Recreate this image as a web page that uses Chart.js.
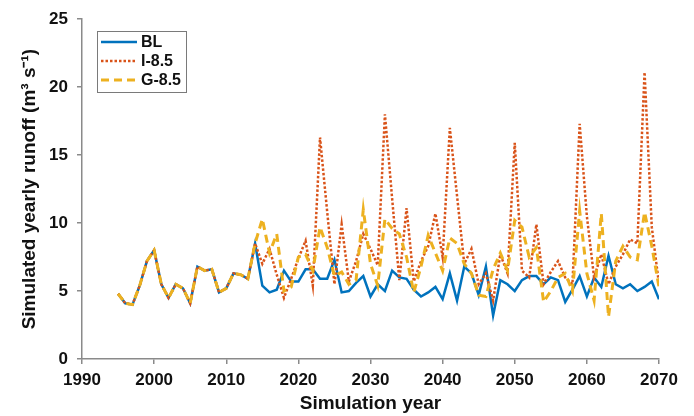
<!DOCTYPE html>
<html>
<head>
<meta charset="utf-8">
<script src="https://cdn.jsdelivr.net/npm/chart.js@4.4.1/dist/chart.umd.min.js"></script>
<style>
  html, body { margin: 0; padding: 0; background: #fff; }
  #wrap { width: 694px; height: 416px; }
</style>
</head>
<body>
<div id="wrap"><canvas id="runoff"></canvas></div>
<script>
// years 1995 .. 2070
const years = [];
for (let y = 1995; y <= 2070; y++) years.push(y);

// 1995-2014: all three runs share the same history
const shared = [4.8, 4.1, 4.0, 5.4, 7.2, 8.0, 5.5, 4.5, 5.5, 5.2,
                4.1, 6.8, 6.5, 6.6, 4.9, 5.2, 6.3, 6.2, 5.9, 8.5];

// 2015-2070
const blFuture = [5.4, 4.9, 5.1, 6.5, 5.7, 5.7, 6.6, 6.6, 5.9, 5.9,
                  7.3, 4.9, 5.0, 5.6, 6.1, 4.6, 5.5, 5.0, 6.5, 6.0,
                  5.9, 5.1, 4.6, 4.9, 5.3, 4.4, 6.3, 4.3, 6.8, 6.3,
                  4.7, 6.8, 3.2, 5.8, 5.5, 5.0, 5.8, 6.1, 6.1, 5.5,
                  6.0, 5.8, 4.2, 5.1, 6.1, 4.6, 6.0, 5.3, 7.6, 5.5,
                  5.2, 5.5, 5.0, 5.3, 5.7, 4.4];
const i85Future = [7.0, 8.1, 6.2, 4.5, 5.9, 7.4, 8.7, 5.4, 16.3, 10.8,
                   5.5, 9.9, 5.7, 7.2, 9.2, 8.1, 6.9, 18.0, 11.8, 5.8,
                   11.1, 5.7, 7.2, 8.3, 10.7, 7.5, 17.0, 12.0, 7.0, 8.1,
                   5.5, 6.3, 4.3, 7.7, 6.3, 15.9, 6.5, 6.0, 9.9, 5.5,
                   6.4, 7.2, 6.0, 5.5, 17.3, 10.5, 6.0, 7.7, 5.5, 6.8,
                   7.7, 8.8, 8.5, 21.1, 9.7, 5.5];
const g85Future = [10.3, 7.8, 9.2, 5.0, 5.3, 7.5, 7.7, 6.5, 9.7, 8.2,
                   6.1, 6.4, 5.5, 5.8, 11.0, 7.0, 5.4, 10.3, 9.6, 9.2,
                   7.5, 4.9, 6.8, 9.1, 7.8, 6.5, 8.9, 8.5, 7.0, 6.3,
                   4.7, 4.6, 6.6, 7.8, 6.5, 10.2, 9.7, 7.5, 8.2, 4.2,
                   5.0, 6.0, 6.3, 5.0, 10.9, 6.3, 4.3, 10.7, 3.1, 7.2,
                   8.3, 7.5, 7.3, 10.8, 8.3, 5.3];

const bl = shared.concat(blFuture);
const i85 = shared.concat(i85Future);
const g85 = shared.concat(g85Future);

const xTicks = [1990, 2000, 2010, 2020, 2030, 2040, 2050, 2060, 2070];
const yTicks = [0, 5, 10, 15, 20, 25];

const toPts = arr => arr.map((v, i) => ({ x: years[i], y: v }));

const font = 'Liberation Sans, Arial, sans-serif';
const axisGrey = '#8a8a8a';

// boxed legend in the upper left, like the original figure
const boxLegend = {
  id: 'boxLegend',
  afterDraw(chart) {
    const c = chart.ctx;
    const x0 = 97, y0 = 31, w = 89, h = 61;
    c.save();
    c.fillStyle = '#fff';
    c.fillRect(x0, y0, w, h);
    c.strokeStyle = '#7a7a7a';
    c.lineWidth = 1;
    c.strokeRect(x0 + 0.5, y0 + 0.5, w, h);
    const ds = chart.data.datasets;
    ds.forEach((d, i) => {
      const yy = 42 + i * 19;
      c.beginPath();
      c.setLineDash(d.borderDash || []);
      c.strokeStyle = d.borderColor;
      c.lineWidth = d.borderWidth;
      c.moveTo(101, yy);
      c.lineTo(137, yy);
      c.stroke();
      c.setLineDash([]);
      c.fillStyle = '#111';
      c.font = 'bold 16px ' + font;
      c.textAlign = 'left';
      c.textBaseline = 'middle';
      c.fillText(d.label, 141, yy + 1);
    });
    c.restore();
  }
};

new Chart(document.getElementById('runoff'), {
  type: 'line',
  data: {
    datasets: [
      {
        label: 'BL',
        data: toPts(bl),
        borderColor: '#0072BD',
        borderWidth: 2.5,
        pointRadius: 0,
        order: 3
      },
      {
        label: 'I-8.5',
        data: toPts(i85),
        borderColor: '#D95319',
        borderWidth: 2.5,
        borderDash: [2.5, 2],
        pointRadius: 0,
        order: 2
      },
      {
        label: 'G-8.5',
        data: toPts(g85),
        borderColor: '#EDB120',
        borderWidth: 3,
        borderDash: [8, 5],
        pointRadius: 0,
        order: 1
      }
    ]
  },
  options: {
    responsive: true,
    maintainAspectRatio: false,
    animation: false,
    layout: { padding: { left: 0, right: 35, top: 17, bottom: 0 } },
    plugins: {
      legend: { display: false },
      tooltip: { enabled: false }
    },
    scales: {
      x: {
        type: 'linear',
        min: 1990,
        max: 2070,
        afterFit(scale) { scale.height = 57; },
        afterBuildTicks(scale) { scale.ticks = xTicks.map(v => ({ value: v })); },
        ticks: {
          color: '#111',
          font: { family: font, size: 17, weight: 'bold' },
          padding: 6,
          maxRotation: 0,
          callback: v => String(v)
        },
        grid: { drawOnChartArea: false, tickLength: 5, color: axisGrey, lineWidth: 1.5 },
        border: { color: axisGrey, width: 1.5 },
        title: {
          display: true,
          text: 'Simulation year',
          color: '#111',
          font: { family: font, size: 19, weight: 'bold' },
          padding: { top: 0, bottom: 1 }
        }
      },
      y: {
        min: 0,
        max: 25,
        afterFit(scale) { scale.width = 82; },
        afterBuildTicks(scale) { scale.ticks = yTicks.map(v => ({ value: v })); },
        ticks: {
          color: '#111',
          font: { family: font, size: 17, weight: 'bold' },
          padding: 9
        },
        grid: { drawOnChartArea: false, tickLength: 5, color: axisGrey, lineWidth: 1.5 },
        border: { color: axisGrey, width: 1.5 },
        title: {
          display: true,
          text: 'Simulated yearly runoff (m³ s⁻¹)',
          color: '#111',
          font: { family: font, size: 19, weight: 'bold' },
          padding: { top: 18, bottom: 0 }
        }
      }
    }
  },
  plugins: [boxLegend]
});
</script>
</body>
</html>
